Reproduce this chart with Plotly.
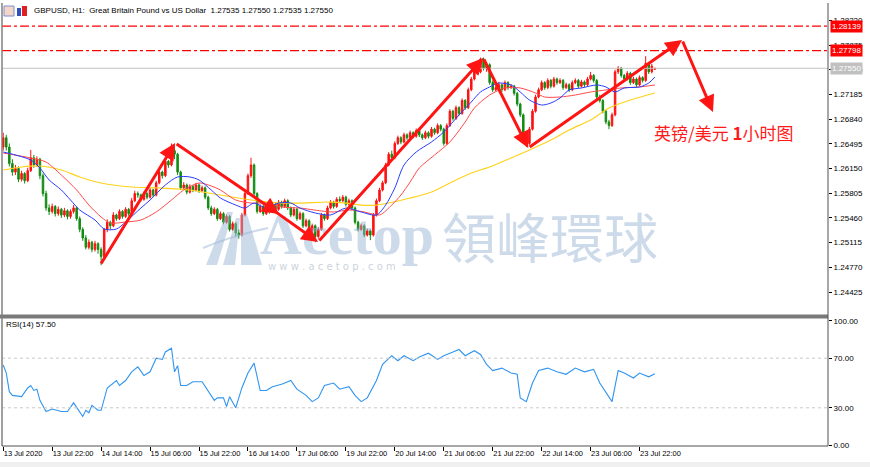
import plotly.graph_objects as go

# ---------------- DATA ----------------
bar_index = list(range(214))

opens = [1.2645,1.2658,1.2645,1.2622,1.2610,1.2615,1.2600,1.2608,1.2598,1.2612,
1.2630,1.2620,1.2628,1.2605,1.2580,1.2560,1.2555,1.2562,1.2552,1.2558,
1.2550,1.2556,1.2548,1.2555,1.2560,1.2545,1.2530,1.2518,1.2505,1.2512,
1.2502,1.2510,1.2502,1.2492,1.2530,1.2540,1.2535,1.2550,1.2545,1.2555,
1.2548,1.2558,1.2552,1.2570,1.2580,1.2578,1.2572,1.2580,1.2575,1.2585,
1.2578,1.2595,1.2610,1.2605,1.2625,1.2620,1.2640,1.2635,1.2610,1.2588,
1.2592,1.2582,1.2590,1.2585,1.2592,1.2584,1.2588,1.2575,1.2560,1.2552,
1.2558,1.2545,1.2552,1.2540,1.2548,1.2530,1.2538,1.2525,1.2522,1.2550,
1.2580,1.2605,1.2620,1.2580,1.2555,1.2562,1.2552,1.2560,1.2555,1.2565,
1.2558,1.2568,1.2562,1.2570,1.2560,1.2550,1.2558,1.2545,1.2552,1.2535,
1.2542,1.2528,1.2535,1.2520,1.2530,1.2550,1.2545,1.2560,1.2568,1.2562,
1.2572,1.2570,1.2575,1.2565,1.2570,1.2560,1.2540,1.2530,1.2535,1.2522,
1.2528,1.2522,1.2550,1.2570,1.2585,1.2595,1.2620,1.2635,1.2630,1.2650,
1.2658,1.2652,1.2662,1.2658,1.2665,1.2660,1.2668,1.2662,1.2658,1.2665,
1.2660,1.2670,1.2665,1.2675,1.2670,1.2650,1.2675,1.2695,1.2685,1.2700,
1.2692,1.2710,1.2700,1.2725,1.2740,1.2755,1.2750,1.2768,1.2755,1.2760,
1.2735,1.2725,1.2728,1.2732,1.2725,1.2735,1.2728,1.2730,1.2720,1.2705,
1.2690,1.2665,1.2650,1.2670,1.2695,1.2715,1.2725,1.2735,1.2728,1.2738,
1.2730,1.2740,1.2735,1.2738,1.2728,1.2732,1.2725,1.2735,1.2738,1.2730,
1.2736,1.2732,1.2740,1.2745,1.2738,1.2715,1.2710,1.2695,1.2680,1.2675,
1.2690,1.2750,1.2755,1.2745,1.2740,1.2748,1.2735,1.2740,1.2732,1.2742,
1.2738,1.2762,1.2750,1.27535]

closes = [1.2658,1.2645,1.2622,1.2610,1.2615,1.2600,1.2608,1.2598,1.2612,1.2630,
1.2620,1.2628,1.2605,1.2580,1.2560,1.2555,1.2562,1.2552,1.2558,1.2550,
1.2556,1.2548,1.2555,1.2560,1.2545,1.2530,1.2518,1.2505,1.2512,1.2502,
1.2510,1.2502,1.2492,1.2530,1.2540,1.2535,1.2550,1.2545,1.2555,1.2548,
1.2558,1.2552,1.2570,1.2580,1.2578,1.2572,1.2580,1.2575,1.2585,1.2578,
1.2595,1.2610,1.2605,1.2625,1.2620,1.2640,1.2635,1.2610,1.2588,1.2592,
1.2582,1.2590,1.2585,1.2592,1.2584,1.2588,1.2575,1.2560,1.2552,1.2558,
1.2545,1.2552,1.2540,1.2548,1.2530,1.2538,1.2525,1.2522,1.2550,1.2580,
1.2605,1.2620,1.2580,1.2555,1.2562,1.2552,1.2560,1.2555,1.2565,1.2558,
1.2568,1.2562,1.2570,1.2560,1.2550,1.2558,1.2545,1.2552,1.2535,1.2542,
1.2528,1.2535,1.2520,1.2530,1.2550,1.2545,1.2560,1.2568,1.2562,1.2572,
1.2570,1.2575,1.2565,1.2570,1.2560,1.2540,1.2530,1.2535,1.2522,1.2528,
1.2522,1.2550,1.2570,1.2585,1.2595,1.2620,1.2635,1.2630,1.2650,1.2658,
1.2652,1.2662,1.2658,1.2665,1.2660,1.2668,1.2662,1.2658,1.2665,1.2660,
1.2670,1.2665,1.2675,1.2670,1.2650,1.2675,1.2695,1.2685,1.2700,1.2692,
1.2710,1.2700,1.2725,1.2740,1.2755,1.2750,1.2768,1.2755,1.2760,1.2735,
1.2725,1.2728,1.2732,1.2725,1.2735,1.2728,1.2730,1.2720,1.2705,1.2690,
1.2665,1.2650,1.2670,1.2695,1.2715,1.2725,1.2735,1.2728,1.2738,1.2730,
1.2740,1.2735,1.2738,1.2728,1.2732,1.2725,1.2735,1.2738,1.2730,1.2736,
1.2732,1.2740,1.2745,1.2738,1.2715,1.2710,1.2695,1.2680,1.2675,1.2690,
1.2750,1.2755,1.2745,1.2740,1.2748,1.2735,1.2740,1.2732,1.2742,1.2738,
1.2762,1.2750,1.2758,1.27550]

highs = [1.2665,1.2662,1.2650,1.2628,1.2620,1.2618,1.2612,1.2610,1.2616,1.2641,
1.2634,1.2632,1.2630,1.2608,1.2584,1.2565,1.2566,1.2564,1.2562,1.2560,
1.2560,1.2558,1.2558,1.2564,1.2562,1.2548,1.2533,1.2522,1.2516,1.2514,
1.2514,1.2512,1.2505,1.2532,1.2544,1.2542,1.2554,1.2552,1.2558,1.2557,
1.2561,1.2560,1.2574,1.2584,1.2583,1.2580,1.2583,1.2582,1.2588,1.2587,
1.2598,1.2613,1.2612,1.2628,1.2627,1.2650,1.2646,1.2637,1.2612,1.2596,
1.2594,1.2593,1.2592,1.2595,1.2594,1.2591,1.2590,1.2577,1.2563,1.2561,
1.2560,1.2555,1.2554,1.2551,1.2550,1.2541,1.2540,1.2530,1.2553,1.2583,
1.2608,1.2630,1.2622,1.2582,1.2565,1.2564,1.2563,1.2562,1.2568,1.2567,
1.2571,1.2570,1.2573,1.2572,1.2562,1.2561,1.2560,1.2555,1.2554,1.2545,
1.2544,1.2538,1.2537,1.2533,1.2553,1.2552,1.2563,1.2571,1.2570,1.2575,
1.2576,1.2578,1.2577,1.2573,1.2572,1.2562,1.2542,1.2538,1.2537,1.2531,
1.2530,1.2553,1.2573,1.2588,1.2598,1.2623,1.2638,1.2640,1.2653,1.2661,
1.2660,1.2665,1.2664,1.2668,1.2667,1.2671,1.2670,1.2664,1.2668,1.2667,
1.2673,1.2672,1.2678,1.2677,1.2672,1.2678,1.2698,1.2697,1.2703,1.2702,
1.2713,1.2712,1.2728,1.2743,1.2758,1.2757,1.2770,1.2770,1.2763,1.2762,
1.2738,1.2731,1.2736,1.2734,1.2738,1.2737,1.2733,1.2732,1.2722,1.2707,
1.2692,1.2667,1.2673,1.2698,1.2718,1.2728,1.2738,1.2737,1.2741,1.2740,
1.2743,1.2742,1.2741,1.2740,1.2735,1.2734,1.2738,1.2741,1.2740,1.2739,
1.2738,1.2743,1.2750,1.2747,1.2740,1.2718,1.2712,1.2697,1.2683,1.2693,
1.2753,1.2758,1.2757,1.2747,1.2751,1.2750,1.2743,1.2742,1.2745,1.2744,
1.2772,1.2764,1.2761,1.27550]

lows = [1.2640,1.2640,1.2618,1.2605,1.2606,1.2596,1.2597,1.2594,1.2596,1.2610,
1.2616,1.2617,1.2600,1.2576,1.2556,1.2550,1.2552,1.2548,1.2549,1.2546,
1.2547,1.2544,1.2545,1.2552,1.2542,1.2526,1.2514,1.2502,1.2502,1.2498,
1.2499,1.2496,1.2480,1.2488,1.2526,1.2530,1.2533,1.2542,1.2543,1.2545,
1.2546,1.2549,1.2550,1.2568,1.2574,1.2569,1.2570,1.2572,1.2573,1.2575,
1.2576,1.2593,1.2601,1.2603,1.2616,1.2618,1.2628,1.2606,1.2585,1.2586,
1.2579,1.2580,1.2582,1.2583,1.2581,1.2582,1.2572,1.2557,1.2549,1.2550,
1.2542,1.2543,1.2537,1.2538,1.2527,1.2528,1.2520,1.2517,1.2520,1.2548,
1.2578,1.2602,1.2576,1.2552,1.2553,1.2549,1.2550,1.2552,1.2553,1.2555,
1.2556,1.2559,1.2560,1.2557,1.2547,1.2548,1.2542,1.2543,1.2532,1.2533,
1.2525,1.2526,1.2512,1.2517,1.2528,1.2542,1.2543,1.2558,1.2559,1.2560,
1.2567,1.2568,1.2562,1.2563,1.2557,1.2537,1.2527,1.2528,1.2519,1.2520,
1.2515,1.2520,1.2548,1.2568,1.2583,1.2593,1.2618,1.2627,1.2628,1.2648,
1.2649,1.2650,1.2655,1.2656,1.2657,1.2658,1.2659,1.2655,1.2656,1.2657,
1.2658,1.2662,1.2663,1.2667,1.2647,1.2648,1.2673,1.2682,1.2683,1.2689,
1.2690,1.2697,1.2698,1.2723,1.2738,1.2746,1.2748,1.2752,1.2750,1.2732,
1.2722,1.2723,1.2726,1.2722,1.2723,1.2725,1.2726,1.2717,1.2702,1.2687,
1.2662,1.2645,1.2648,1.2668,1.2693,1.2713,1.2723,1.2725,1.2726,1.2727,
1.2728,1.2732,1.2733,1.2725,1.2726,1.2722,1.2723,1.2733,1.2727,1.2728,
1.2729,1.2730,1.2738,1.2735,1.2712,1.2707,1.2692,1.2677,1.2670,1.2673,
1.2688,1.2747,1.2742,1.2737,1.2738,1.2732,1.2733,1.2729,1.2730,1.2735,
1.2736,1.2747,1.2748,1.27535]

# moving averages
ma_blue_x = [0,9,12,15,19,22,25,30,33,37,40,45,48,53,57,61,64,68,71,76,79,82,86,90,94,97,102,107,112,117,122,125,128,131,135,140,144,149,153,156,159,162,166,169,172,176,179,182,185,189,194,197,200,203,208,211,213]
ma_blue_y = [1.26381,1.26269,1.26157,1.25990,1.25850,1.25710,1.25571,1.25431,1.25305,1.25305,1.25403,1.25598,1.25710,1.25920,1.26032,1.26032,1.25990,1.25850,1.25738,1.25640,1.25598,1.25668,1.25598,1.25668,1.25668,1.25598,1.25529,1.25501,1.25598,1.25543,1.25501,1.25640,1.25878,1.26199,1.26381,1.26521,1.26660,1.26898,1.27079,1.27219,1.27289,1.27344,1.27317,1.27219,1.27107,1.27037,1.27065,1.27135,1.27247,1.27275,1.27317,1.27289,1.27219,1.27275,1.27289,1.27344,1.27428]

ma_red_x = [0,9,14,19,24,28,32,35,40,45,50,55,59,64,68,71,76,81,86,91,97,104,108,113,118,123,127,130,133,136,141,146,151,154,159,164,169,174,177,182,187,192,197,202,208,213]
ma_red_y = [1.26367,1.26297,1.26241,1.26059,1.25850,1.25640,1.25473,1.25389,1.25403,1.25431,1.25543,1.25710,1.25850,1.25948,1.25906,1.25850,1.25710,1.25668,1.25668,1.25612,1.25598,1.25557,1.25543,1.25571,1.25543,1.25501,1.25640,1.25780,1.25962,1.26157,1.26339,1.26521,1.26800,1.26995,1.27177,1.27275,1.27275,1.27205,1.27149,1.27149,1.27177,1.27219,1.27247,1.27275,1.27289,1.27317]

ma_yellow_x = [0,6,12,19,25,32,42,51,61,71,81,91,97,107,112,117,122,126,133,140,146,153,159,166,172,179,185,192,198,205,213]
ma_yellow_y = [1.26129,1.26171,1.26185,1.26129,1.26032,1.25948,1.25892,1.25878,1.25850,1.25780,1.25710,1.25668,1.25668,1.25682,1.25668,1.25640,1.25640,1.25668,1.25738,1.25822,1.25948,1.26087,1.26171,1.26297,1.26409,1.26548,1.26688,1.26828,1.26995,1.27107,1.27205]

# RSI(14)
rsi_x = [0,1,2,3,6,8,9,10,11,12,14,16,19,21,23,24,26,27,28,29,31,32,34,37,38,40,42,44,46,48,50,52,53,55,56,57,58,60,62,65,67,69,70,72,73,74,76,78,80,82,84,86,88,91,94,96,
         99,101,103,105,108,110,113,115,117,119,122,124,127,129,131,134,136,139,142,144,147,149,151,154,156,158,160,163,166,168,169,171,173,175,178,181,184,187,190,193,195,197,199,201,203,206,208,211,213]
rsi_y = [64.5,58,43,40,39,46,48,44,45,36,27,29,27,27,34,30,23,28,26,32,28,28,46,52,48,52,59,63,56,59,70,69,75,78,59,64,48,48,51,51,43,36,38,38,31,39,30,46,58,66,44,44,47,49,52,45,
         40,35,38,48,50,45,47,40,35,38,52,65,72,68,72,68,71,74,69,72,75,77,72,76,73,65,60,62,58,57,38,35,50,60,62,59,57,62,59,61,50,43,35,60,58,54,58,55,57.5]

# zig-zag arrows drawn on the chart (tail -> head)
zz_tail_x = [31.7, 56.2, 87.3, 102.9, 156.9, 171.6, 221.9]
zz_tail_y = [1.24802, 1.26506, 1.25598, 1.25123, 1.27694, 1.26436, 1.27945]
zz_head_x = [56.2, 90.2, 102.9, 156.9, 171.6, 221.9, 232.0]
zz_head_y = [1.26506, 1.25515, 1.25123, 1.27694, 1.26436, 1.27945, 1.26939]

price_ticks = [1.24425, 1.24770, 1.25115, 1.25460, 1.25805, 1.26150, 1.26495, 1.26840, 1.27185, 1.27530, 1.27875, 1.28220]
rsi_ticks = [0, 30, 70, 100]
x_tick_pos = [0, 16, 32, 48, 64, 80, 96, 112, 128, 144, 160, 176, 192, 208]
x_tick_labels = ["13 Jul 2020", "13 Jul 22:00", "14 Jul 14:00", "15 Jul 06:00", "15 Jul 22:00",
                 "16 Jul 14:00", "17 Jul 06:00", "19 Jul 22:00", "20 Jul 14:00", "21 Jul 06:00",
                 "21 Jul 22:00", "22 Jul 14:00", "23 Jul 06:00", "23 Jul 22:00"]
level_lines = [1.28139, 1.27798]
bid_price = 1.27550
rsi_levels = [30, 70]

# ---------------- LAYOUT HELPERS ----------------
W, H = 870, 467
L, R, T, B = 2, 42, 3, 21
PW, PH = W - L - R, H - T - B
def px(x):
    return (x - L) / PW
def py(y):
    return (H - B - y) / PH

main_dom = [py(315), 1.0]
rsi_dom = [0.0, py(318)]

fig = go.Figure()

fig.add_trace(go.Candlestick(
    x=bar_index, open=opens, high=highs, low=lows, close=closes,
    increasing=dict(line=dict(color="#ff1010", width=1), fillcolor="#ff1010"),
    decreasing=dict(line=dict(color="#128c12", width=1), fillcolor="#128c12"),
    whiskerwidth=0, xaxis="x", yaxis="y", showlegend=False, hoverinfo="skip"))

fig.add_trace(go.Scatter(x=ma_yellow_x, y=ma_yellow_y, mode="lines",
    line=dict(color="#ffd21a", width=1.2, shape="spline", smoothing=0.8),
    xaxis="x", yaxis="y", showlegend=False, hoverinfo="skip"))
fig.add_trace(go.Scatter(x=ma_red_x, y=ma_red_y, mode="lines",
    line=dict(color="#ff4a4a", width=1, shape="spline", smoothing=0.8),
    xaxis="x", yaxis="y", showlegend=False, hoverinfo="skip"))
fig.add_trace(go.Scatter(x=ma_blue_x, y=ma_blue_y, mode="lines",
    line=dict(color="#2a3cff", width=1, shape="spline", smoothing=0.8),
    xaxis="x", yaxis="y", showlegend=False, hoverinfo="skip"))

fig.add_trace(go.Scatter(x=rsi_x, y=rsi_y, mode="lines",
    line=dict(color="#2f95f0", width=1.1),
    xaxis="x", yaxis="y2", showlegend=False, hoverinfo="skip"))

shapes = []
for lv in level_lines:
    shapes.append(dict(type="line", xref="paper", x0=0, x1=1, yref="y", y0=lv, y1=lv,
                       line=dict(color="#ff0000", width=1.2, dash="dashdot")))
shapes.append(dict(type="line", xref="paper", x0=0, x1=1, yref="y", y0=bid_price, y1=bid_price,
                   line=dict(color="#c4c4c4", width=1)))
for lv in rsi_levels:
    shapes.append(dict(type="line", xref="paper", x0=0, x1=1, yref="y2", y0=lv, y1=lv,
                       line=dict(color="#c8c8c8", width=1, dash="3px,3px")))
# frames
shapes.append(dict(type="rect", xref="paper", yref="paper", x0=px(0), x1=px(828), y0=py(318.5), y1=py(314.5),
                   fillcolor="#7a7a7a", line=dict(width=0)))
shapes.append(dict(type="line", xref="paper", yref="paper", x0=px(2), x1=px(2), y0=py(446), y1=py(3),
                   line=dict(color="#808080", width=1.5)))
shapes.append(dict(type="line", xref="paper", yref="paper", x0=px(828), x1=px(828), y0=py(446), y1=py(3),
                   line=dict(color="#505050", width=1)))
shapes.append(dict(type="line", xref="paper", yref="paper", x0=px(2), x1=px(828), y0=py(446), y1=py(446),
                   line=dict(color="#505050", width=1)))
shapes.append(dict(type="rect", xref="paper", yref="paper", x0=px(0), x1=px(870), y0=py(462), y1=py(467),
                   fillcolor="#f0f0f0", line=dict(width=0), layer="below"))
# watermark logo
wm = "rgba(150,178,212,0.48)"
def poly(pts):
    return "M " + " L ".join(f"{px(a):.5f},{py(b):.5f}" for a, b in pts) + " Z"
shapes.append(dict(type="path", xref="paper", yref="paper", path=poly([(206, 265), (227, 212), (233, 212), (217, 265)]),
                   fillcolor=wm, line=dict(width=0)))
shapes.append(dict(type="path", xref="paper", yref="paper", path=poly([(223, 265), (236, 218), (240, 218), (235, 265)]),
                   fillcolor=wm, line=dict(width=0)))
shapes.append(dict(type="path", xref="paper", yref="paper", path=poly([(241, 265), (241, 214), (247, 214), (262, 265)]),
                   fillcolor=wm, line=dict(width=0)))
shapes.append(dict(type="path", xref="paper", yref="paper",
                   path=f"M {px(203):.5f},{py(248):.5f} Q {px(232):.5f},{py(236):.5f} {px(268):.5f},{py(228):.5f}",
                   line=dict(color=wm, width=2)))

# small title icons
shapes.append(dict(type="rect", xref="paper", yref="paper", x0=px(4), x1=px(14), y0=py(16), y1=py(6),
                   fillcolor="#f4d7c8", line=dict(color="#7b8fd0", width=1)))
shapes.append(dict(type="rect", xref="paper", yref="paper", x0=px(17), x1=px(21), y0=py(16), y1=py(8),
                   fillcolor="#3050c0", line=dict(width=0)))
shapes.append(dict(type="rect", xref="paper", yref="paper", x0=px(22), x1=px(27), y0=py(16), y1=py(6),
                   fillcolor="#e02020", line=dict(width=0)))

annotations = []
nb = "\u00a0"
annotations.append(dict(xref="paper", yref="paper", x=px(32), y=py(11), xanchor="left", yanchor="middle",
    text=f"GBPUSD,{nb}H1:{nb}{nb}Great{nb}Britain{nb}Pound{nb}vs{nb}US{nb}Dollar{nb}{nb}1.27535{nb}1.27550{nb}1.27535{nb}1.27550",
    showarrow=False, font=dict(family="Liberation Sans", size=8, color="#000000")))
annotations.append(dict(xref="paper", yref="paper", x=px(4), y=py(324), xanchor="left", yanchor="middle",
    text="RSI(14) 57.50", showarrow=False, font=dict(family="Liberation Sans", size=8, color="#000000")))
annotations.append(dict(xref="paper", yref="paper", x=px(652), y=py(133), xanchor="left", yanchor="middle",
    text="英镑/美元 <b>1</b>小时图", showarrow=False,
    font=dict(family="Noto Sans CJK SC", size=17, color="#ff1a1a")))
# watermark text
annotations.append(dict(xref="paper", yref="paper", x=px(258), y=py(234), xanchor="left", yanchor="middle",
    text="<b>Acetop</b>", showarrow=False, font=dict(family="Liberation Serif", size=58, color=wm)))
annotations.append(dict(xref="paper", yref="paper", x=px(440), y=py(235), xanchor="left", yanchor="middle",
    text="領峰環球", showarrow=False, font=dict(family="Noto Sans CJK TC", size=54, color=wm)))
annotations.append(dict(xref="paper", yref="paper", x=px(266), y=py(266), xanchor="left", yanchor="middle",
    text="w w w . a c e t o p . c o m", showarrow=False,
    font=dict(family="DejaVu Sans", size=10, color="rgba(150,165,185,0.5)")))
# price boxes
for lv, bg in [(level_lines[0], "#ff0000"), (level_lines[1], "#ff0000"), (bid_price, "#c0c0c0")]:
    annotations.append(dict(xref="paper", yref="y", x=px(830), y=lv, xanchor="left", yanchor="middle",
        text=f"{lv:.5f}", showarrow=False, bgcolor=bg, borderpad=1,
        font=dict(family="Liberation Sans", size=8, color="#ffffff")))
# zig-zag arrows
for tx, ty, hx, hy in zip(zz_tail_x, zz_tail_y, zz_head_x, zz_head_y):
    annotations.append(dict(xref="x", yref="y", x=hx, y=hy, axref="x", ayref="y", ax=tx, ay=ty,
        text="", showarrow=True, arrowhead=2, arrowsize=1.1, arrowwidth=3, arrowcolor="#ff1414", standoff=0))

fig.update_layout(
    width=W, height=H, margin=dict(l=L, r=R, t=T, b=B, autoexpand=False),
    paper_bgcolor="#ffffff", plot_bgcolor="#ffffff",
    showlegend=False,
    xaxis=dict(domain=[0, 1], anchor="y2", range=[-0.4, 269.6], rangeslider=dict(visible=False),
               tickvals=x_tick_pos, ticktext=x_tick_labels, ticks="outside", ticklen=4, tickcolor="#000000",
               tickangle=0, automargin=False,
               ticklabelposition="outside right", showgrid=False, zeroline=False, showline=False,
               tickfont=dict(family="Liberation Sans", size=7.5, color="#000000")),
    yaxis=dict(domain=main_dom, side="right", range=[1.24104, 1.28462], tickvals=price_ticks,
               ticktext=[f"{v:.5f}" for v in price_ticks], ticks="outside", ticklen=3, tickcolor="#000000",
               showgrid=False, zeroline=False, showline=False, automargin=False,
               tickfont=dict(family="Liberation Sans", size=8, color="#000000")),
    yaxis2=dict(domain=rsi_dom, side="right", range=[-0.8, 102.4], tickvals=rsi_ticks,
                ticktext=[f"{v:.2f}" for v in rsi_ticks], ticks="outside", ticklen=3, tickcolor="#000000",
                showgrid=False, zeroline=False, showline=False, anchor="x", automargin=False,
                tickfont=dict(family="Liberation Sans", size=8, color="#000000")),
    shapes=shapes, annotations=annotations,
)

fig.write_html("out.html")
